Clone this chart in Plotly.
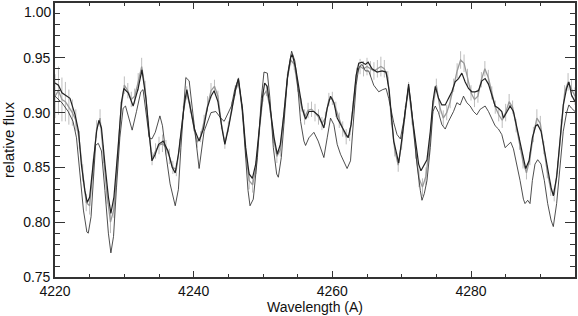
import plotly.graph_objects as go

# ---- model 1 (thick, close to observed) ----
wl_m1 = [4220.0, 4220.5, 4221.0, 4222.16, 4222.9, 4223.4, 4223.8, 4224.3, 4224.65, 4225.0,
         4225.5, 4226.0, 4226.33, 4226.7, 4227.2, 4227.7, 4228.06, 4228.5, 4229.1, 4229.6,
         4229.93, 4230.55, 4231.27, 4231.99, 4232.54, 4233.12, 4233.6, 4233.98, 4234.46, 4234.94,
         4235.6, 4236.3, 4236.9, 4237.34, 4237.8, 4238.3, 4238.7, 4239.02, 4239.5, 4240.1,
         4240.79, 4241.4, 4242.0, 4242.5, 4242.95, 4243.5, 4244.1, 4244.5, 4245.11, 4245.6,
         4246.07, 4246.45, 4247.03, 4247.5, 4248.0, 4248.47, 4248.95, 4249.43, 4249.9, 4250.24,
         4250.6, 4251.1, 4251.6, 4252.06, 4252.5, 4253.0, 4253.5, 4253.98, 4254.22, 4254.7,
         4255.2, 4255.66, 4256.14, 4256.62, 4257.34, 4258.06, 4258.78, 4259.26, 4259.74, 4260.22,
         4260.7, 4261.42, 4261.99, 4262.28, 4262.71, 4263.1, 4263.43, 4263.81, 4264.29, 4264.77,
         4265.16, 4265.73, 4266.45, 4267.17, 4267.75, 4268.2, 4268.55, 4268.85, 4269.33, 4269.57,
         4270.05, 4270.53, 4271.0, 4271.49, 4271.97, 4272.45, 4272.78, 4273.26, 4273.65, 4274.13,
         4274.51, 4274.85, 4275.32, 4275.8, 4276.28, 4276.76, 4277.24, 4277.72, 4278.2, 4278.68,
         4279.16, 4279.64, 4280.12, 4280.6, 4281.08, 4281.56, 4282.04, 4282.52, 4283.0, 4283.48,
         4283.96, 4284.44, 4284.68, 4285.16, 4285.64, 4286.12, 4286.6, 4287.08, 4287.56, 4287.89,
         4288.37, 4288.85, 4289.33, 4289.62, 4290.1, 4290.58, 4291.06, 4291.54, 4291.87, 4292.35,
         4292.83, 4293.31, 4293.79, 4294.12, 4294.5, 4295.0]
flux_m1 = [0.927, 0.925, 0.918, 0.913, 0.898, 0.883, 0.853, 0.829, 0.818, 0.823,
           0.853, 0.883, 0.893, 0.886, 0.853, 0.823, 0.808, 0.823, 0.868, 0.910,
           0.922, 0.918, 0.906, 0.922, 0.939, 0.913, 0.880, 0.856, 0.862, 0.871,
           0.874, 0.865, 0.850, 0.845, 0.862, 0.890, 0.910, 0.921, 0.905, 0.885,
           0.874, 0.885, 0.905, 0.915, 0.920, 0.910, 0.885, 0.871, 0.889, 0.907,
           0.922, 0.931, 0.904, 0.868, 0.844, 0.840, 0.853, 0.883, 0.913, 0.927,
           0.924, 0.901, 0.877, 0.862, 0.871, 0.898, 0.931, 0.950, 0.953, 0.941,
           0.922, 0.904, 0.894, 0.901, 0.901, 0.897, 0.886, 0.904, 0.915, 0.909,
           0.895, 0.886, 0.880, 0.877, 0.889, 0.913, 0.934, 0.945, 0.946, 0.944,
           0.946, 0.940, 0.937, 0.938, 0.937, 0.920, 0.895, 0.874, 0.861, 0.854,
           0.877, 0.904, 0.926, 0.898, 0.874, 0.853, 0.847, 0.853, 0.857, 0.883,
           0.910, 0.924, 0.913, 0.907, 0.907, 0.913, 0.919, 0.928, 0.931, 0.936,
           0.928, 0.922, 0.919, 0.919, 0.920, 0.929, 0.931, 0.926, 0.917, 0.906,
           0.904, 0.901, 0.895, 0.900, 0.906, 0.901, 0.886, 0.871, 0.856, 0.849,
           0.856, 0.877, 0.888, 0.889, 0.883, 0.865, 0.847, 0.832, 0.824, 0.841,
           0.874, 0.907, 0.922, 0.928, 0.916, 0.910]

# ---- model 2 (thin, deeper lines) ----
wl_m2 = [4220.0, 4221.0, 4221.9, 4222.6, 4223.1, 4223.6, 4224.1, 4224.6, 4224.8, 4225.2,
         4225.5, 4225.85, 4226.24, 4226.7, 4227.2, 4227.7, 4228.06, 4228.44, 4228.87, 4229.35,
         4229.83, 4230.17, 4230.65, 4231.13, 4231.75, 4232.37, 4232.7, 4233.12, 4233.6, 4233.98,
         4234.46, 4235.13, 4235.5, 4236.0, 4236.6, 4237.34, 4237.8, 4238.16, 4238.55, 4238.87,
         4239.35, 4240.07, 4240.79, 4241.5, 4242.5, 4243.2, 4243.9, 4244.4, 4244.97, 4245.45,
         4245.92, 4246.45, 4247.03, 4247.5, 4247.84, 4248.13, 4248.6, 4249.19, 4249.76, 4250.14,
         4250.63, 4251.0, 4251.49, 4251.97, 4252.21, 4252.64, 4253.12, 4253.6, 4254.13, 4254.6,
         4255.04, 4255.42, 4255.9, 4256.14, 4256.62, 4257.34, 4257.96, 4258.44, 4258.78, 4259.26,
         4259.74, 4260.22, 4260.7, 4261.18, 4261.66, 4262.13, 4262.62, 4263.1, 4263.43, 4263.81,
         4264.29, 4264.77, 4265.25, 4265.97, 4266.69, 4267.27, 4267.75, 4268.13, 4268.5, 4268.85,
         4269.33, 4269.81, 4270.29, 4270.77, 4271.0, 4271.34, 4271.73, 4272.2, 4272.69, 4272.93,
         4273.26, 4273.65, 4274.13, 4274.51, 4274.85, 4275.32, 4275.8, 4276.28, 4276.76, 4277.48,
         4277.96, 4278.44, 4278.92, 4279.4, 4279.88, 4280.36, 4280.84, 4281.32, 4281.56, 4282.04,
         4282.52, 4283.0, 4283.48, 4283.96, 4284.44, 4284.92, 4285.4, 4285.73, 4286.12, 4286.6,
         4287.08, 4287.56, 4287.79, 4288.18, 4288.51, 4288.85, 4289.23, 4289.62, 4290.1, 4290.58,
         4291.06, 4291.54, 4291.87, 4292.35, 4292.83, 4293.31, 4293.79, 4294.12, 4294.5, 4295.0]
flux_m2 = [0.915, 0.909, 0.901, 0.892, 0.877, 0.847, 0.811, 0.791, 0.790, 0.805,
           0.838, 0.870, 0.872, 0.865, 0.829, 0.790, 0.772, 0.787, 0.832, 0.877,
           0.904, 0.906, 0.895, 0.884, 0.901, 0.919, 0.921, 0.901, 0.877, 0.876,
           0.882, 0.897, 0.888, 0.862, 0.835, 0.815, 0.830, 0.868, 0.905, 0.932,
           0.929, 0.886, 0.849, 0.883, 0.900, 0.901, 0.895, 0.892, 0.900, 0.906,
           0.921, 0.931, 0.901, 0.859, 0.829, 0.815, 0.821, 0.859, 0.913, 0.937,
           0.936, 0.913, 0.868, 0.844, 0.841, 0.859, 0.898, 0.937, 0.956, 0.947,
           0.922, 0.892, 0.874, 0.870, 0.877, 0.882, 0.874, 0.865, 0.859, 0.877,
           0.895, 0.889, 0.871, 0.862, 0.855, 0.849, 0.856, 0.898, 0.925, 0.941,
           0.944, 0.938, 0.938, 0.925, 0.919, 0.921, 0.922, 0.913, 0.900, 0.891,
           0.880, 0.876, 0.892, 0.913, 0.924, 0.909, 0.883, 0.853, 0.829, 0.820,
           0.826, 0.838, 0.868, 0.901, 0.906, 0.900, 0.889, 0.885, 0.892, 0.901,
           0.909, 0.907, 0.915, 0.909, 0.906, 0.901, 0.898, 0.903, 0.904, 0.906,
           0.901, 0.895, 0.888, 0.885, 0.880, 0.868, 0.871, 0.873, 0.867, 0.853,
           0.838, 0.821, 0.817, 0.820, 0.817, 0.838, 0.853, 0.857, 0.853, 0.838,
           0.817, 0.802, 0.796, 0.817, 0.853, 0.883, 0.900, 0.907, 0.904, 0.901]

# ---- observed spectrum (0.5 A sampling) with errors ----
wl_obs = [4220.0 + 0.5 * i for i in range(151)]
flux_obs = [0.915, 0.920, 0.912, 0.910, 0.905, 0.900, 0.893, 0.875, 0.845, 0.818,
            0.815, 0.850, 0.885, 0.895, 0.862, 0.825, 0.800, 0.812, 0.855, 0.902,
            0.925, 0.920, 0.912, 0.915, 0.928, 0.942, 0.922, 0.885, 0.858, 0.865,
            0.870, 0.872, 0.868, 0.860, 0.850, 0.848, 0.870, 0.900, 0.918, 0.905,
            0.888, 0.873, 0.878, 0.892, 0.908, 0.920, 0.924, 0.915, 0.890, 0.872,
            0.887, 0.905, 0.920, 0.927, 0.903, 0.865, 0.838, 0.834, 0.850, 0.885,
            0.915, 0.920, 0.905, 0.878, 0.860, 0.866, 0.895, 0.930, 0.948, 0.944,
            0.924, 0.907, 0.896, 0.902, 0.903, 0.900, 0.896, 0.890, 0.895, 0.912,
            0.913, 0.903, 0.893, 0.885, 0.878, 0.880, 0.905, 0.935, 0.942, 0.940,
            0.942, 0.940, 0.938, 0.940, 0.942, 0.940, 0.932, 0.895, 0.866, 0.852,
            0.872, 0.900, 0.922, 0.895, 0.865, 0.840, 0.832, 0.842, 0.868, 0.905,
            0.925, 0.905, 0.895, 0.900, 0.910, 0.925, 0.938, 0.948, 0.945, 0.932,
            0.918, 0.912, 0.915, 0.930, 0.940, 0.932, 0.918, 0.905, 0.898, 0.893,
            0.900, 0.910, 0.905, 0.888, 0.872, 0.855, 0.845, 0.858, 0.880, 0.895,
            0.890, 0.868, 0.846, 0.830, 0.825, 0.850, 0.888, 0.918, 0.928, 0.922,
            0.915]
err_obs = [0.020, 0.022, 0.020, 0.018, 0.016, 0.012, 0.010, 0.008, 0.008, 0.008,
           0.008, 0.008, 0.008, 0.008, 0.008, 0.008, 0.010, 0.008, 0.008, 0.008,
           0.008, 0.007, 0.007, 0.007, 0.008, 0.008, 0.007, 0.007, 0.006, 0.007,
           0.008, 0.008, 0.007, 0.007, 0.006, 0.006, 0.006, 0.006, 0.006, 0.005,
           0.005, 0.005, 0.005, 0.006, 0.007, 0.007, 0.006, 0.005, 0.005, 0.005,
           0.005, 0.005, 0.005, 0.005, 0.005, 0.006, 0.008, 0.007, 0.006, 0.005,
           0.005, 0.005, 0.005, 0.006, 0.006, 0.006, 0.005, 0.005, 0.005, 0.005,
           0.005, 0.006, 0.007, 0.007, 0.007, 0.008, 0.007, 0.006, 0.006, 0.006,
           0.006, 0.007, 0.007, 0.007, 0.007, 0.006, 0.006, 0.006, 0.007, 0.007,
           0.008, 0.007, 0.008, 0.008, 0.009, 0.008, 0.006, 0.006, 0.006, 0.006,
           0.006, 0.006, 0.006, 0.006, 0.007, 0.008, 0.008, 0.008, 0.007, 0.006,
           0.006, 0.006, 0.007, 0.007, 0.006, 0.006, 0.007, 0.008, 0.008, 0.008,
           0.007, 0.007, 0.006, 0.007, 0.007, 0.007, 0.006, 0.006, 0.006, 0.007,
           0.008, 0.007, 0.006, 0.006, 0.006, 0.006, 0.006, 0.006, 0.007, 0.008,
           0.007, 0.006, 0.006, 0.006, 0.006, 0.006, 0.006, 0.007, 0.008, 0.008,
           0.008]

x_ticks = [4220, 4240, 4260, 4280]
y_ticks = [0.75, 0.80, 0.85, 0.90, 0.95, 1.00]
y_ticklabels = ["0.75", "0.80", "0.85", "0.90", "0.95", ""]
top_label = "1.00"

fig = go.Figure()
fig.add_trace(go.Scatter(
    x=wl_obs, y=flux_obs, mode="lines",
    line=dict(color="#999999", width=1.3),
    error_y=dict(type="data", array=err_obs, color="#bdbdbd", thickness=1, width=0),
    showlegend=False))
fig.add_trace(go.Scatter(
    x=wl_m2, y=flux_m2, mode="lines",
    line=dict(color="#222222", width=0.8),
    showlegend=False))
fig.add_trace(go.Scatter(
    x=wl_m1, y=flux_m1, mode="lines",
    line=dict(color="#222222", width=1.2),
    showlegend=False))

font_name = "Liberation Sans, Arial, sans-serif"
fig.update_layout(
    width=578, height=316,
    margin=dict(l=55, r=2, t=1, b=39),
    paper_bgcolor="white", plot_bgcolor="white",
    font=dict(family=font_name, size=14, color="#111"),
)
# top tick label sits just inside the canvas, as in the original
fig.add_annotation(
    text=top_label, xref="paper", x=0, xanchor="right", xshift=-2,
    yref="y", y=y_ticks[-1], yanchor="top", yshift=1,
    showarrow=False, font=dict(size=14, family=font_name, color="#111"))
fig.update_xaxes(
    range=[4220, 4295], tickmode="array", tickvals=x_ticks,
    ticks="inside", ticklen=6, tickwidth=1.2, tickcolor="#333",
    minor=dict(dtick=5, tick0=4220, ticks="inside", ticklen=3, tickcolor="#333", showgrid=False),
    showline=True, linecolor="#333", linewidth=1.6, mirror="ticks",
    showgrid=False, zeroline=False,
    title=dict(text="Wavelength (A)", font=dict(size=14), standoff=4),
    tickfont=dict(size=14),
)
fig.update_yaxes(
    range=[0.75, 1.0], tickmode="array", tickvals=y_ticks, ticktext=y_ticklabels,
    ticks="inside", ticklen=10, tickwidth=1.2, tickcolor="#333",
    minor=dict(dtick=0.01, tick0=0.75, ticks="inside", ticklen=5, tickcolor="#333", showgrid=False),
    showline=True, linecolor="#333", linewidth=1.6, mirror="ticks",
    showgrid=False, zeroline=False,
    title=dict(text="relative flux", font=dict(size=15), standoff=6),
    tickfont=dict(size=14),
)
fig.write_html("out.html", config={"displayModeBar": False},
               post_script="document.body.style.margin='0px';")
